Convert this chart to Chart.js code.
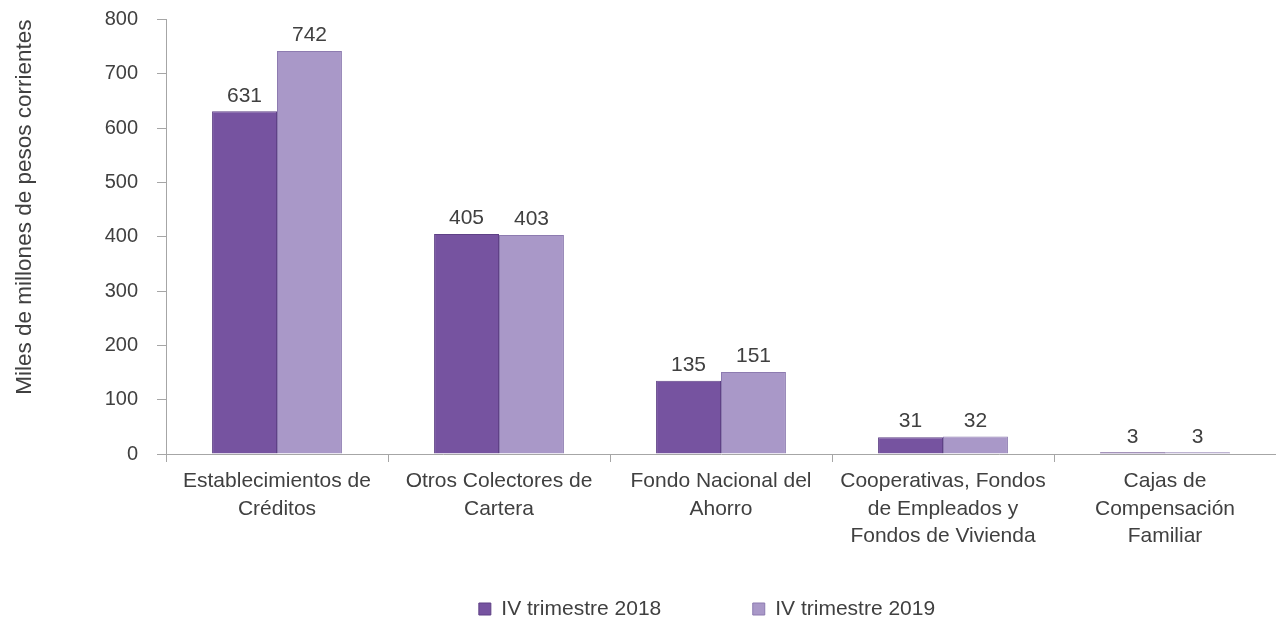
<!DOCTYPE html>
<html>
<head>
<meta charset="utf-8">
<script src="https://cdn.jsdelivr.net/npm/chart.js@4"></script>
<style>
  html, body { margin: 0; padding: 0; background: #ffffff; }
  #wrap { width: 1276px; height: 622px; }
</style>
</head>
<body>
<div id="wrap"><canvas id="c" width="1276" height="622"></canvas></div>
<script>
const categories = [
  ["Establecimientos de", "Créditos"],
  ["Otros Colectores de", "Cartera"],
  ["Fondo Nacional del", "Ahorro"],
  ["Cooperativas, Fondos", "de Empleados y", "Fondos de Vivienda"],
  ["Cajas de", "Compensación", "Familiar"]
];
const seriesNames = ["IV trimestre 2018", "IV trimestre 2019"];
const values2018 = [631, 405, 135, 31, 3];
const values2019 = [742, 403, 151, 32, 3];
const yTicks = [0, 100, 200, 300, 400, 500, 600, 700, 800];
const yTitle = "Miles de millones de pesos corrientes";

const FONT = "'Liberation Sans', Arial, sans-serif";
const TXT = '#404040';
const AXIS = '#a6a6a6';

const valueLabels = {
  id: 'valueLabels',
  afterDatasetsDraw(chart) {
    const ctx = chart.ctx;
    ctx.save();
    ctx.font = '21px ' + FONT;
    ctx.fillStyle = TXT;
    ctx.textAlign = 'center';
    ctx.textBaseline = 'bottom';
    chart.data.datasets.forEach((ds, di) => {
      const meta = chart.getDatasetMeta(di);
      meta.data.forEach((el, i) => {
        ctx.fillText(String(ds.data[i]), el.x, el.y - 5);
      });
    });
    ctx.restore();
  }
};

const legendShift = {
  id: 'legendShift',
  afterLayout(chart) {
    const lg = chart.legend;
    if (lg) {
      lg.left -= 14; lg.right -= 14;
      lg.top -= 62;
    }
  }
};

new Chart(document.getElementById('c'), {
  type: 'bar',
  data: {
    labels: categories,
    datasets: [
      {
        label: seriesNames[0],
        data: values2018,
        backgroundColor: '#7653a0',
        borderColor: '#5f4186',
        borderWidth: 1,
        categoryPercentage: 0.585,
        barPercentage: 1.0
      },
      {
        label: seriesNames[1],
        data: values2019,
        backgroundColor: '#a998c8',
        borderColor: '#8d7bb0',
        borderWidth: 1,
        categoryPercentage: 0.585,
        barPercentage: 1.0
      }
    ]
  },
  options: {
    responsive: false,
    animation: false,
    devicePixelRatio: 1,
    layout: { padding: 0 },
    plugins: {
      tooltip: { enabled: false },
      legend: {
        position: 'bottom',
        fullSize: false,
        maxHeight: 53,
        labels: {
          font: { family: FONT, size: 21 },
          color: TXT,
          boxWidth: 12,
          boxHeight: 12,
          padding: 91.5
        }
      }
    },
    scales: {
      x: {
        afterFit(scale) { scale.height = 115; },
        ticks: {
          font: { family: FONT, size: 21, lineHeight: 1.3 },
          color: TXT,
          padding: 6,
          maxRotation: 0,
          autoSkip: false
        },
        grid: { display: true, drawOnChartArea: false, drawTicks: true, tickLength: 8, color: AXIS, offset: true },
        border: { display: true, color: AXIS }
      },
      y: {
        min: 0,
        max: 800,
        afterFit(scale) { scale.width = 166; },
        afterBuildTicks(scale) { scale.ticks = yTicks.map(v => ({ value: v })); },
        ticks: {
          font: { family: FONT, size: 20, lineHeight: '1px' },
          color: TXT,
          padding: 19
        },
        grid: { display: true, drawOnChartArea: false, drawTicks: true, tickLength: 9, color: AXIS },
        border: { display: true, color: AXIS },
        title: {
          display: true,
          text: yTitle,
          align: 'end',
          font: { family: FONT, size: 22.5 },
          color: TXT,
          padding: { top: 11, bottom: 0 }
        }
      }
    }
  },
  plugins: [valueLabels, legendShift]
});
</script>
</body>
</html>
